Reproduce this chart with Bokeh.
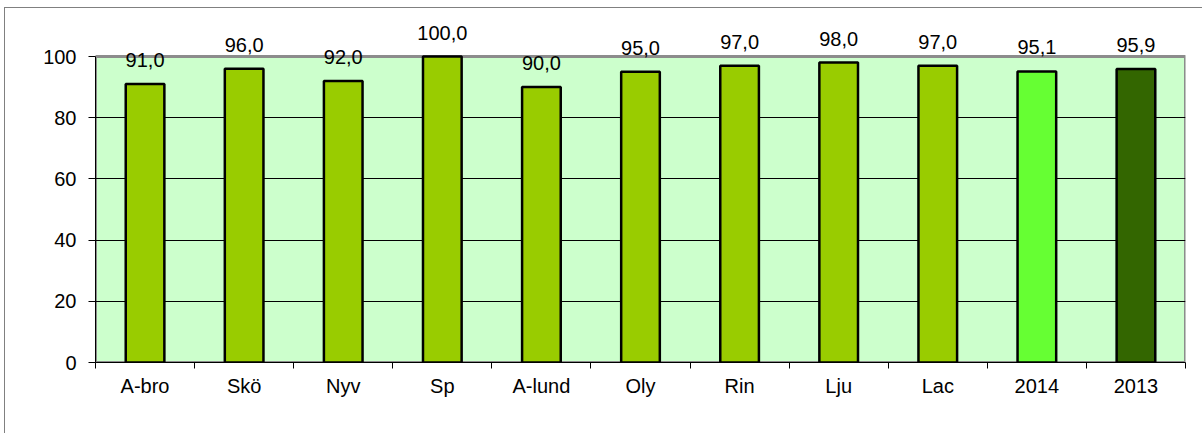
from bokeh.plotting import figure
from bokeh.models import ColumnDataSource, FixedTicker, Range1d
from bokeh.core.properties import value
from bokeh.embed import file_html
from bokeh.resources import INLINE

categories = ["A-bro", "Skö", "Nyv", "Sp", "A-lund", "Oly", "Rin", "Lju", "Lac", "2014", "2013"]
values = [91.0, 96.0, 92.0, 100.0, 90.0, 95.0, 97.0, 98.0, 97.0, 95.1, 95.9]
y_ticks = [0, 20, 40, 60, 80, 100]

bar_colors = ["#99CC00"] * 9 + ["#66FF33", "#336600"]
FONT = "Liberation Sans"

# layout (pixels): plot area 0..100 spans 306 px; extra headroom for value labels
PLOT_PX = 306
HEAD_PX = 40
y_max = y_ticks[-1]
y_end = y_max * (PLOT_PX + HEAD_PX) / PLOT_PX

xs = list(range(1, len(categories) + 1))
x0, x1 = 0.5, len(categories) + 0.5
labels = [f"{v:.1f}".replace(".", ",") for v in values]
src = ColumnDataSource(dict(x=xs, top=values, color=bar_colors, label=labels))

p = figure(width=1198, height=426, output_backend="svg", toolbar_location=None,
           x_range=Range1d(x0, x1), y_range=Range1d(0, y_end),
           min_border_left=90, min_border_top=48 - HEAD_PX, min_border_right=18, min_border_bottom=72)
p.styles = {"margin-left": "4px", "margin-top": "7px",
            "border-left": "1px solid #808080", "border-top": "1px solid #808080"}
p.background_fill_color = "white"
p.border_fill_color = "white"
p.outline_line_color = None

# plot-area background with gray top/right border
p.quad(left=x0, right=x1, bottom=0, top=y_max, fill_color="#CCFFCC",
       line_color="#8c8c8c", line_width=3, level="image")

p.vbar(x="x", top="top", bottom=0, width=0.39, fill_color="color",
       line_color="black", line_width=2.5, source=src)
p.text(x="x", y="top", text="label", source=src, text_align="center",
       text_baseline="alphabetic", y_offset=-24, text_font=value(FONT),
       text_font_size="20px", text_color="black")

# axes
xa = p.xaxis[0]
xa.ticker = FixedTicker(ticks=xs, minor_ticks=[i + 0.5 for i in range(0, len(categories) + 1)])
xa.major_label_overrides = {x: c for x, c in zip(xs, categories)}
xa.major_tick_line_color = None
xa.major_tick_out = 0
xa.major_tick_in = 0
xa.minor_tick_out = 6
xa.minor_tick_in = 0
xa.minor_tick_line_color = "black"
xa.major_label_standoff = 6
xa.axis_line_color = "black"

ya = p.yaxis[0]
ya.ticker = FixedTicker(ticks=y_ticks, minor_ticks=[])
ya.bounds = (0, y_max)
ya.major_tick_out = 7
ya.major_tick_in = 0
ya.major_tick_line_color = "black"
ya.major_label_standoff = 12
ya.axis_line_color = "black"

for ax in (xa, ya):
    ax.major_label_text_font = FONT
    ax.major_label_text_font_size = "20px"
    ax.major_label_text_color = "black"

p.xgrid.grid_line_color = None
p.ygrid.ticker = FixedTicker(ticks=y_ticks[1:-1])
p.ygrid.grid_line_color = "black"
p.ygrid.grid_line_width = 1

open("out.html", "w").write(file_html(p, INLINE))
